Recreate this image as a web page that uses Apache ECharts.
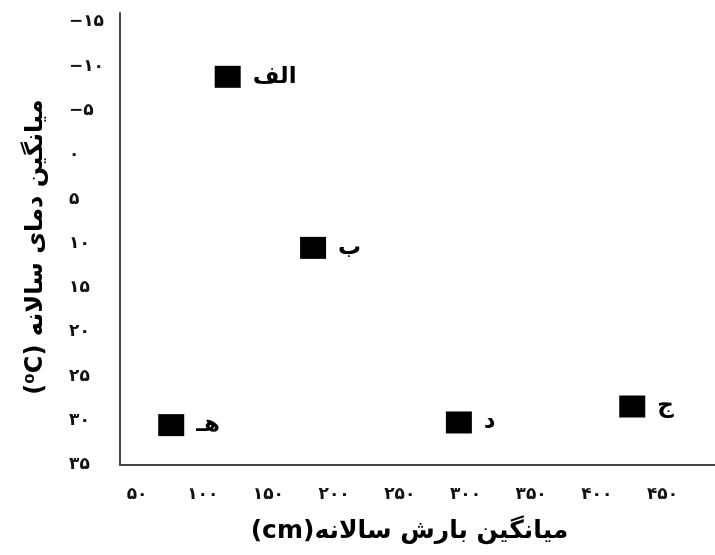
<!DOCTYPE html>
<html>
<head>
<meta charset="utf-8">
<script src="https://cdn.jsdelivr.net/npm/echarts@6.0.0/dist/echarts.min.js"></script>
<style>
html, body { margin: 0; padding: 0; background: #fff; }
#chart { width: 715px; height: 555px; }
</style>
</head>
<body>
<div id="chart"></div>
<script>
var regions = ["الف", "ب", "ج", "د", "هـ"];
var rainfall = [119, 184, 427, 295, 76];
var temperature = [-8.8, 10.5, 28.4, 30.2, 30.5];

var xTicks = [50, 100, 150, 200, 250, 300, 350, 400, 450];
var xTickLabels = ["۵۰", "۱۰۰", "۱۵۰", "۲۰۰", "۲۵۰", "۳۰۰", "۳۵۰", "۴۰۰", "۴۵۰"];
var yTicks = [-15, -10, -5, 0, 5, 10, 15, 20, 25, 30, 35];
var yTickLabels = ["−۱۵", "−۱۰", "−۵", "۰", "۵", "۱۰", "۱۵", "۲۰", "۲۵", "۳۰", "۳۵"];

var font = "DejaVu Sans";

var chart = echarts.init(document.getElementById("chart"));

var points = regions.map(function(name, i) {
    return { name: name, value: [rainfall[i], temperature[i]] };
});

var option = {
    backgroundColor: "#fff",
    animation: false,
    grid: {
        left: 120,
        right: 0,
        top: 13,
        bottom: 90,
        outerBoundsMode: "none"
    },
    xAxis: {
        type: "value",
        min: 37,
        max: 490,
        name: "(cm)میانگین بارش سالانه",
        nameLocation: "middle",
        nameGap: 54,
        nameTextStyle: {
            fontFamily: font,
            fontWeight: "bold",
            fontSize: 25,
            color: "#000",
            padding: [0, 16, 0, 0]
        },
        axisLine: { onZero: false, lineStyle: { color: "#444", width: 2 } },
        axisTick: { show: false },
        splitLine: { show: false },
        axisLabel: {
            customValues: xTicks,
            margin: 21,
            fontFamily: font,
            fontWeight: "bold",
            fontSize: 17,
            color: "#111",
            formatter: function(value) {
                return xTickLabels[xTicks.indexOf(value)];
            }
        }
    },
    yAxis: {
        type: "value",
        inverse: true,
        min: -16,
        max: 35,
        name: "(⁰C) میانگین دمای سالانه",
        nameLocation: "middle",
        nameRotate: 90,
        nameGap: 72,
        nameTextStyle: {
            fontFamily: font,
            fontWeight: "bold",
            fontSize: 24,
            color: "#000",
            padding: [0, 16, 0, 0]
        },
        axisLine: { onZero: false, lineStyle: { color: "#444", width: 2 } },
        axisTick: { show: false },
        splitLine: { show: false },
        axisLabel: {
            customValues: yTicks,
            margin: 51,
            align: "left",
            fontFamily: font,
            fontWeight: "bold",
            fontSize: 17,
            color: "#111",
            formatter: function(value) {
                return yTickLabels[yTicks.indexOf(value)];
            }
        }
    },
    series: [
        {
            type: "scatter",
            symbol: "rect",
            symbolSize: [26, 22],
            itemStyle: { color: "#000", opacity: 1 },
            label: {
                show: true,
                position: "right",
                distance: 12,
                formatter: "{b}",
                fontFamily: font,
                fontWeight: "bold",
                fontSize: 23,
                color: "#000"
            },
            data: points
        }
    ]
};

chart.setOption(option, true);
</script>
</body>
</html>
